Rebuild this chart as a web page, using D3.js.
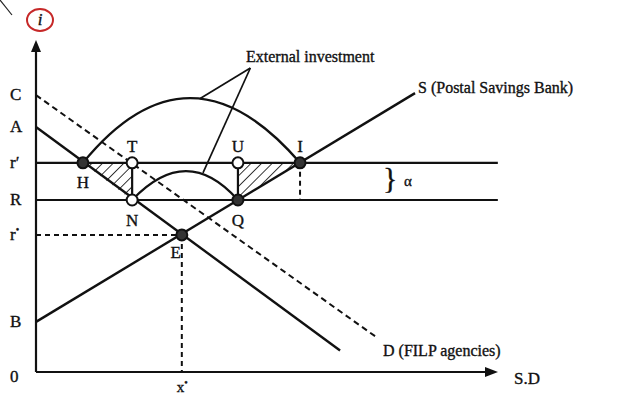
<!DOCTYPE html>
<html>
<head>
<meta charset="utf-8">
<script src="https://cdn.jsdelivr.net/npm/d3@7"></script>
<style>
	body { margin: 0; background: #fff; }
	text { font-family: "Liberation Serif", "DejaVu Serif", serif; fill: #111; stroke: #111; stroke-width: 0.35; }
</style>
</head>
<body>
<svg id="chart" width="627" height="394"></svg>
<script>
// rate levels on the vertical axis (chart units)
const rateNames  = ["C", "A", "r′", "R", "r*", "B"];
const rateValues = [83.4, 73.8, 63.0, 51.8, 41.3, 15.1];

// curves: [x, y] in chart units
const supplyLine = [[0, 15.1], [82.4, 84.0]];     // S (Postal Savings Bank)
const demandLine = [[0, 73.8], [66.1, 6.5]];      // solid demand
const filpLine   = [[0, 83.4], [74.3, 10.2]];     // D (FILP agencies), dashed

// named points
const pointNames = ["H", "T", "N", "U", "Q", "I", "E"];
const pointX     = [10.2, 20.9, 20.9, 43.9, 43.9, 57.4, 31.7];
const pointY     = [63.0, 63.0, 51.8, 63.0, 51.8, 63.0, 41.3];
const pointOpen  = [false, true, true, true, false, false, false];

// external investment arcs: [start, peak, end]
const bigArc   = [[10.2, 63.0], [33.5, 82.5], [57.4, 63.0]];
const smallArc = [[20.9, 51.8], [32.6, 60.5], [43.9, 51.8]];

// hatched triangles (welfare areas)
const triangles = [
	[[10.2, 63.0], [20.9, 63.0], [20.9, 51.8]],
	[[43.9, 63.0], [57.4, 63.0], [43.9, 51.8]]
];

const svg = d3.select("#chart");
const x = d3.scaleLinear().domain([0, 100]).range([36, 496]);
const y = d3.scaleLinear().domain([0, 100]).range([372, 40]);
const X0 = x(0), Y0 = y(0);
const rate = name => rateValues[rateNames.indexOf(name)];
const pt = name => { const i = pointNames.indexOf(name); return [pointX[i], pointY[i]]; };

// hatch pattern
const defs = svg.append("defs");
defs.append("pattern")
	.attr("id", "hatch").attr("patternUnits", "userSpaceOnUse")
	.attr("width", 7.5).attr("height", 7.5).attr("patternTransform", "rotate(45)")
	.append("line").attr("x1", 0).attr("y1", 0).attr("x2", 0).attr("y2", 7.5)
	.attr("stroke", "#222").attr("stroke-width", 1.8);

const line = d3.line().x(d => x(d[0])).y(d => y(d[1]));

svg.append("g").selectAll("path").data(triangles).join("path")
	.attr("d", d => line(d) + "Z")
	.attr("fill", "url(#hatch)");

// scan mark top-left
svg.append("line").attr("x1", 0).attr("y1", 0).attr("x2", 12).attr("y2", 15)
	.attr("stroke", "#222").attr("stroke-width", 1.2);

// axes
const axis = svg.append("g").attr("stroke", "#111").attr("stroke-width", 2.2);
axis.append("line").attr("x1", X0).attr("y1", Y0).attr("x2", X0).attr("y2", y(100) + 8);
axis.append("line").attr("x1", X0).attr("y1", Y0).attr("x2", x(100) - 6).attr("y2", Y0);
svg.append("path")
	.attr("d", `M${X0},${y(100)} L${X0 - 5},${y(100) + 12} L${X0 + 5},${y(100) + 12}Z`)
	.attr("fill", "#111");
svg.append("path")
	.attr("d", `M${x(100) + 2},${Y0} L${x(100) - 11},${Y0 - 5} L${x(100) - 11},${Y0 + 5}Z`)
	.attr("fill", "#111");

// horizontal rate lines r' and R
svg.append("g").selectAll("line").data(["r′", "R"]).join("line")
	.attr("x1", X0).attr("x2", x(100.4))
	.attr("y1", d => y(rate(d))).attr("y2", d => y(rate(d)))
	.attr("stroke", "#111").attr("stroke-width", 2.2);

// dashed guides
const dash = svg.append("g").attr("stroke", "#111").attr("stroke-width", 2)
	.attr("stroke-dasharray", "5,4");
dash.append("line").attr("x1", X0).attr("y1", y(rate("r*")))
	.attr("x2", x(pt("E")[0])).attr("y2", y(rate("r*")));
dash.append("line").attr("x1", x(pt("E")[0])).attr("y1", y(pt("E")[1]))
	.attr("x2", x(pt("E")[0])).attr("y2", Y0);
dash.append("line").attr("x1", x(pt("I")[0])).attr("y1", y(pt("I")[1]))
	.attr("x2", x(pt("I")[0])).attr("y2", y(rate("R")));
dash.append("path").attr("d", line(filpLine)).attr("fill", "none").attr("stroke-dasharray", "6,4");

// supply and demand
svg.append("g").selectAll("path").data([supplyLine, demandLine]).join("path")
	.attr("d", line).attr("fill", "none").attr("stroke", "#111").attr("stroke-width", 2.4);

// vertical T-N and U-Q segments
svg.append("g").selectAll("line").data([["T", "N"], ["U", "Q"]]).join("line")
	.attr("x1", d => x(pt(d[0])[0])).attr("y1", d => y(pt(d[0])[1]))
	.attr("x2", d => x(pt(d[1])[0])).attr("y2", d => y(pt(d[1])[1]))
	.attr("stroke", "#111").attr("stroke-width", 2.2);

// parabolic arcs (quadratic curve with vertex at peak)
function arcPath(a) {
	const p = d3.path();
	const [s, m, e] = a;
	p.moveTo(x(s[0]), y(s[1]));
	const cy = 2 * y(m[1]) - (y(s[1]) + y(e[1])) / 2;
	p.quadraticCurveTo(2 * x(m[0]) - (x(s[0]) + x(e[0])) / 2, cy, x(e[0]), y(e[1]));
	return p.toString();
}
svg.append("g").selectAll("path").data([bigArc, smallArc]).join("path")
	.attr("d", arcPath).attr("fill", "none").attr("stroke", "#111").attr("stroke-width", 2.4);

// leader lines for "External investment"
const lead = [x(46.6), 68];
svg.append("g").selectAll("line").data([[x(35.6), y(82.3)], [x(36.3), y(60.0)]]).join("line")
	.attr("x1", lead[0]).attr("y1", lead[1]).attr("x2", d => d[0]).attr("y2", d => d[1])
	.attr("stroke", "#111").attr("stroke-width", 1.7);

// point markers
svg.append("g").selectAll("circle").data(pointNames).join("circle")
	.attr("cx", d => x(pt(d)[0])).attr("cy", d => y(pt(d)[1])).attr("r", 5.5)
	.attr("fill", (d, i) => pointOpen[i] ? "#fff" : "#333")
	.attr("stroke", "#111").attr("stroke-width", 2);

// point labels
const labelOff = { H: [0, 21], T: [0, -15], N: [0, 22], U: [0, -15], Q: [0, 22], I: [0, -15], E: [-6, 19] };
svg.append("g").selectAll("text").data(pointNames).join("text")
	.attr("x", d => x(pt(d)[0]) + labelOff[d][0])
	.attr("y", d => y(pt(d)[1]) + labelOff[d][1])
	.attr("text-anchor", "middle").attr("dominant-baseline", "middle")
	.attr("font-size", 17).text(d => d);

// axis rate labels
const rl = svg.append("g").selectAll("text").data(rateNames).join("text")
	.attr("x", 10).attr("y", d => y(rate(d)) + 1)
	.attr("dominant-baseline", "middle").attr("font-size", 17);
rl.each(function(d) {
	const t = d3.select(this);
	if (d === "r*") {
		t.text("r");
		t.append("tspan").attr("dy", -5).attr("font-size", 10).text("•");
	} else t.text(d);
});
svg.append("text").attr("x", 10).attr("y", Y0 + 6).attr("dominant-baseline", "middle")
	.attr("font-size", 17).text("0");

// x* label
const xs = svg.append("text").attr("x", x(pt("E")[0]) - 5).attr("y", 392).attr("font-size", 15).text("x");
xs.append("tspan").attr("dy", -6).attr("font-size", 10).text("•");

// axis titles
svg.append("ellipse").attr("cx", 40).attr("cy", 20).attr("rx", 13).attr("ry", 11)
	.attr("fill", "none").attr("stroke", "#c62828").attr("stroke-width", 2);
svg.append("text").attr("x", 40).attr("y", 21).attr("text-anchor", "middle")
	.attr("dominant-baseline", "middle").attr("font-size", 17).attr("font-style", "italic").text("i");
svg.append("text").attr("x", 514).attr("y", 384).attr("font-size", 17).text("S.D");

// curve labels
svg.append("text").attr("x", 246).attr("y", 62).attr("font-size", 16).text("External investment");
svg.append("text").attr("x", 418).attr("y", 93).attr("font-size", 16).text("S (Postal Savings Bank)");
svg.append("text").attr("x", 383).attr("y", 356).attr("font-size", 16).text("D (FILP agencies)");

// alpha brace
svg.append("text").attr("x", 383).attr("y", y((rate("r′") + rate("R")) / 2))
	.attr("dominant-baseline", "middle").attr("font-size", 30).attr("stroke-width", 0).text("}");
svg.append("text").attr("x", 404).attr("y", y((rate("r′") + rate("R")) / 2) + 1)
	.attr("dominant-baseline", "middle").attr("font-size", 15).text("α");
</script>
</body>
</html>
